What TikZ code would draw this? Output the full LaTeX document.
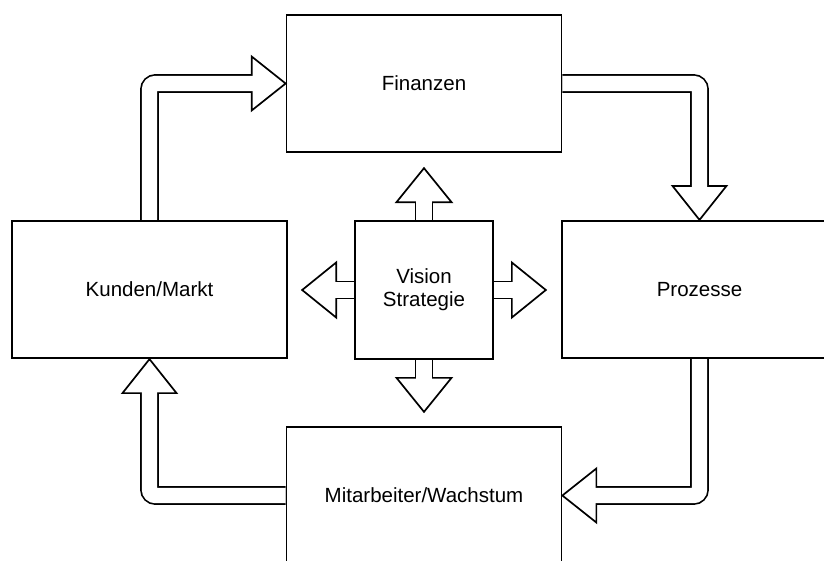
\documentclass[tikz,border=0pt]{standalone}
\usepackage{fontspec}
\setmainfont{Liberation Sans}
\usetikzlibrary{calc,backgrounds}

% Hollow block arrow: #1 = shaft path (ends at the head base), #2 = closed head outline
\newcommand\blockarrow[2]{%
  \draw[shaftout] #1;
  \draw[arrowhead] #2;
  \draw[shaftin] #1;
}

\begin{document}
\begin{tikzpicture}[x=1pt,y=-1pt,
  box/.style={draw=black, line width=1.7pt, minimum width=275pt, minimum height=137.5pt,
              inner sep=0pt, align=center, font=\fontsize{20.5}{23}\selectfont},
  sqbox/.style={box, minimum width=138pt, minimum height=138pt},
  shaftout/.style={draw=black, line width=18.7pt, rounded corners=6pt},
  shaftin/.style={draw=white, line width=15.3pt, rounded corners=6pt, shorten >=-3pt},
  arrowhead/.style={draw=black, fill=white, line width=1.7pt, line join=miter}]

\useasboundingbox (0,0) rectangle (824,560);

% Perspective boxes
\node[box]   (fin) at (424,83.5)    {Finanzen};
\node[box]   (kun) at (149.5,289.5) {Kunden/Markt};
\node[sqbox] (vis) at (424,290)     {Vision\\Strategie};
\node[box]   (pro) at (699.5,289.5) {Prozesse};
\node[box]   (mit) at (424,495.5)   {Mitarbeiter/Wachstum};

% Free ends of the arrows leaving the centre
\coordinate (tipN) at ($(vis.north)+(0,-52)$);
\coordinate (tipS) at ($(vis.south)+(0,52)$);
\coordinate (tipW) at ($(vis.west)+(-52,0)$);
\coordinate (tipE) at ($(vis.east)+(52,0)$);

\begin{pgfonlayer}{background}
  % Cycle around the centre
  \blockarrow{(kun.north) |- ($(fin.west)+(-34,0)$)}
             {($(fin.west)+(-34,-27)$) -- (fin.west) -- ($(fin.west)+(-34,27)$) -- cycle}
  \blockarrow{(fin.east) -| ($(pro.north)+(0,-34)$)}
             {($(pro.north)+(-27,-34)$) -- (pro.north) -- ($(pro.north)+(27,-34)$) -- cycle}
  \blockarrow{(pro.south) |- ($(mit.east)+(34,0)$)}
             {($(mit.east)+(34,-27)$) -- (mit.east) -- ($(mit.east)+(34,27)$) -- cycle}
  \blockarrow{(mit.west) -| ($(kun.south)+(0,34)$)}
             {($(kun.south)+(-27,34)$) -- (kun.south) -- ($(kun.south)+(27,34)$) -- cycle}

  % Arrows from the vision box outwards
  \blockarrow{(vis.north) -- ($(tipN)+(0,34)$)}
             {($(tipN)+(-27.5,34)$) -- (tipN) -- ($(tipN)+(27.5,34)$) -- cycle}
  \blockarrow{(vis.south) -- ($(tipS)+(0,-34)$)}
             {($(tipS)+(-27.5,-34)$) -- (tipS) -- ($(tipS)+(27.5,-34)$) -- cycle}
  \blockarrow{(vis.west) -- ($(tipW)+(34,0)$)}
             {($(tipW)+(34,-27.5)$) -- (tipW) -- ($(tipW)+(34,27.5)$) -- cycle}
  \blockarrow{(vis.east) -- ($(tipE)+(-34,0)$)}
             {($(tipE)+(-34,-27.5)$) -- (tipE) -- ($(tipE)+(-34,27.5)$) -- cycle}
\end{pgfonlayer}

\end{tikzpicture}
\end{document}
